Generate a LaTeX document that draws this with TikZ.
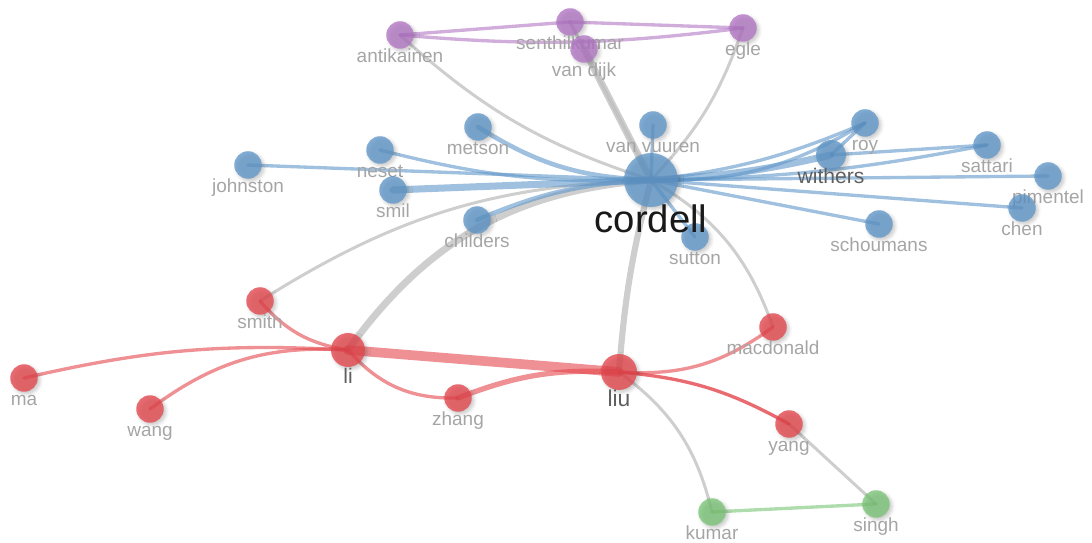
\documentclass[tikz,border=0pt]{standalone}
\usepackage{fontspec}
\setmainfont{Liberation Sans}
\usetikzlibrary{backgrounds,shadows.blur}

\definecolor{vosblue}{RGB}{95,150,200}
\definecolor{vosred}{RGB}{228,70,76}
\definecolor{vospurple}{RGB}{178,118,196}
\definecolor{vosgreen}{RGB}{122,196,118}
\definecolor{edgegray}{RGB}{190,190,190}
\definecolor{labelgray}{RGB}{165,165,165}
\definecolor{labeldark}{RGB}{95,95,95}

\tikzset{
  author/.style={circle, inner sep=0pt, minimum size=0.55cm, fill=#1, fill opacity=0.78,
    blur shadow={shadow xshift=1.3pt, shadow yshift=-1.3pt, shadow blur radius=2pt, shadow opacity=28}},
  lbl/.style={text=labelgray, font=\fontsize{10.8}{12}\selectfont, inner sep=0pt, anchor=base, yshift=-0.27cm},
  biglbl/.style={text=labeldark, font=\fontsize{12}{14}\selectfont, inner sep=0pt, anchor=base, yshift=-0.3cm},
  link/.style={draw=#1, draw opacity=0.6, line width=1.9pt, line cap=round},
  grey link/.style={draw=edgegray, draw opacity=0.75, line width=1.7pt, line cap=round}
}

\begin{document}
\begin{tikzpicture}[x=0.02cm, y=-0.02cm]
  \useasboundingbox (0,0) rectangle (1092,543);

  % authors
  \foreach \n/\t/\x/\y in {antikainen/antikainen/400/35, senthilkumar/senthilkumar/570/22,
      vandijk/van dijk/584/49, egle/egle/743/28}
    \node[author=vospurple, label={[lbl]below:\t}] (\n) at (\x,\y) {};
  \foreach \n/\t/\x/\y in {metson/metson/478/127, vanvuuren/van vuuren/653/125,
      neset/neset/380/150, johnston/johnston/248/165, smil/smil/393/190,
      childers/childers/477/220, sutton/sutton/695/237, roy/roy/865/123,
      sattari/sattari/987/145, pimentel/pimentel/1048/176, chen/chen/1022/208,
      schoumans/schoumans/879/224}
    \node[author=vosblue, label={[lbl]below:\t}] (\n) at (\x,\y) {};
  \foreach \n/\t/\x/\y in {smith/smith/260/301, ma/ma/24/378, wang/wang/150/409,
      zhang/zhang/458/398, macdonald/macdonald/773/327, yang/yang/789/424}
    \node[author=vosred, label={[lbl]below:\t}] (\n) at (\x,\y) {};
  \foreach \n/\t/\x/\y in {kumar/kumar/712/512, singh/singh/876/504}
    \node[author=vosgreen, label={[lbl]below:\t}] (\n) at (\x,\y) {};

  \node[author=vosblue, minimum size=0.6cm, label={[biglbl, yshift=0.04cm]below:withers}] (withers) at (831,155) {};
  \node[author=vosred, minimum size=0.68cm, label={[biglbl, yshift=-0.02cm]below:li}] (li) at (348,350) {};
  \node[author=vosred, minimum size=0.72cm, label={[biglbl, font=\fontsize{13}{15}\selectfont, yshift=-0.02cm]below:liu}] (liu) at (619,372) {};
  \node[author=vosblue, minimum size=1.08cm,
    label={[biglbl, text=black!90, font=\fontsize{21.8}{24}\selectfont, yshift=-0.2cm]below:cordell}] (cordell) at (651,180) {};

  \begin{scope}[on background layer]
    % links between clusters
    \draw[grey link] (cordell.center) to[bend left=12] (antikainen.center);
    \draw[grey link, line width=2pt] (cordell.center) -- (senthilkumar.center);
    \draw[grey link, line width=4pt] (cordell.center) -- (vandijk.center);
    \draw[grey link] (cordell.center) to[bend right=12] (egle.center);
    \draw[grey link] (cordell.center) to[bend right=15] (smith.center);
    \draw[grey link, line width=4pt] (cordell.center) to[bend right=25] (li.center);
    \draw[grey link, line width=3.5pt] (cordell.center) to[bend right=5] (liu.center);
    \draw[grey link] (cordell.center) to[bend left=20] (macdonald.center);
    \draw[grey link] (liu.center) to[bend left=20] (kumar.center);
    \draw[grey link] (yang.center) -- (singh.center);

    % purple
    \draw[link=vospurple] (antikainen.center) -- (senthilkumar.center);
    \draw[link=vospurple] (senthilkumar.center) -- (egle.center);
    \draw[link=vospurple] (antikainen.center) to[bend right=6] (egle.center);

    % blue
    \draw[link=vosblue] (cordell.center) -- (johnston.center);
    \draw[link=vosblue] (cordell.center) to[bend left=8] (neset.center);
    \draw[link=vosblue, line width=4pt] (cordell.center) -- (smil.center);
    \draw[link=vosblue, line width=2.6pt] (cordell.center) to[bend left=15] (metson.center);
    \draw[link=vosblue, line width=2.6pt] (cordell.center) to[bend right=10] (childers.center);
    \draw[link=vosblue] (cordell.center) -- (vanvuuren.center);
    \draw[link=vosblue] (cordell.center) -- (sutton.center);
    \draw[link=vosblue] (cordell.center) to[bend right=8] (roy.center);
    \draw[link=vosblue] (cordell.center) to[bend right=16] (roy.center);
    \draw[link=vosblue, line width=4pt] (cordell.center) to[bend right=5] (withers.center);
    \draw[link=vosblue] (withers.center) -- (roy.center);
    \draw[link=vosblue] (withers.center) -- (sattari.center);
    \draw[link=vosblue] (cordell.center) to[bend right=5] (sattari.center);
    \draw[link=vosblue] (cordell.center) -- (pimentel.center);
    \draw[link=vosblue] (cordell.center) -- (chen.center);
    \draw[link=vosblue] (cordell.center) -- (schoumans.center);

    % red
    \draw[link=vosred, line width=5.5pt] (li.center) -- (liu.center);
    \draw[link=vosred] (li.center) to[bend right=8] (ma.center);
    \draw[link=vosred] (li.center) to[bend right=20] (wang.center);
    \draw[link=vosred] (li.center) to[bend left=20] (smith.center);
    \draw[link=vosred] (li.center) to[bend right=25] (zhang.center);
    \draw[link=vosred, line width=3pt] (zhang.center) to[bend left=12] (liu.center);
    \draw[link=vosred] (liu.center) to[bend right=20] (macdonald.center);
    \draw[link=vosred, draw opacity=0.8] (liu.center) to[bend left=12] (yang.center);

    % green
    \draw[link=vosgreen] (kumar.center) -- (singh.center);
  \end{scope}
\end{tikzpicture}
\end{document}
